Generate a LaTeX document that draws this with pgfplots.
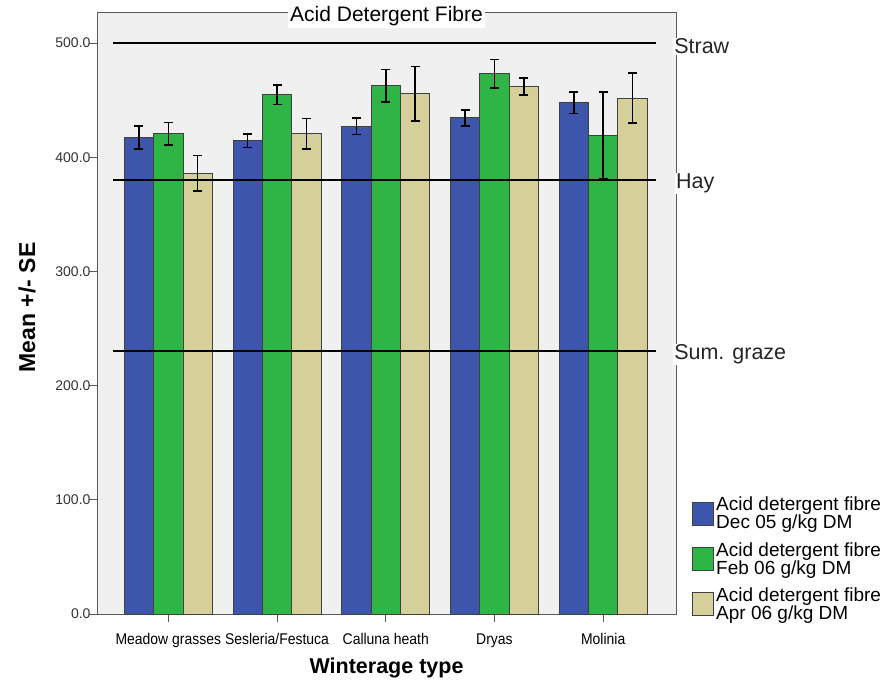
\documentclass[border=0pt]{standalone}
\usepackage{pgfplots}
\usepackage{pgfplotstable}
\pgfplotsset{compat=1.18}
\usepackage{fontspec}
\setmainfont{Liberation Sans}
\newfontfamily\narrowfont[FakeStretch=0.9]{Liberation Sans}
\definecolor{cblue}{RGB}{61,86,172}
\definecolor{cgreen}{RGB}{47,180,70}
\definecolor{ctan}{RGB}{213,207,153}
\definecolor{cbg}{RGB}{240,240,240}
\definecolor{cframe}{RGB}{90,90,90}
\pgfplotstableread{
x b be g ge t te
0 417.4 10.0 420.6 10.0 386.2 15.5
1 414.5 6.0 454.8 8.6 420.6 13.5
2 427.3 7.3 462.6 14.3 455.6 24.0
3 434.6 7.0 473.2 12.4 462.0 7.5
4 447.7 9.4 419.4 38.0 451.9 21.7
}\data
\begin{document}
\begin{tikzpicture}
\path[use as bounding box] (0,0) rectangle (885pt,682pt);
\begin{axis}[
  at={(97pt,68pt)}, anchor=south west,
  width=579pt, height=601pt, scale only axis,
  clip=false,
  ybar, bar width=0.27,
  xmin=-0.656, xmax=4.67,
  ymin=0, ymax=526.4,
  axis background/.style={fill=cbg},
  axis line style={cframe, line width=1pt},
  xtick={0,1,2,3,4},
  xticklabels={Meadow grasses, Sesleria/Festuca, Calluna heath, Dryas, Molinia},
  ytick={0,100,200,300,400,500},
  tick align=outside,
  xtick pos=bottom, ytick pos=left,
  major tick length=8pt,
  tick style={cframe, line width=1pt},
  /pgf/number format/assume math mode=true,
  yticklabel style={/pgf/number format/.cd, fixed, fixed zerofill, precision=1, /tikz/.cd, font=\fontsize{14}{16}\selectfont, text=black!80, xshift=5pt},
  xticklabel style={font=\narrowfont\fontsize{15.5}{16}\selectfont, text=black, yshift=-8pt},
  xlabel={Winterage type},
  xlabel style={font=\bfseries\fontsize{21.5}{24}\selectfont, at={(axis description cs:0.5,0)}, anchor=base, yshift=-59pt},
  ylabel={Mean +/- SE},
  ylabel style={font=\bfseries\fontsize{23}{26}\selectfont, at={(axis description cs:-0.121,0.51)}, anchor=center},
  title={Acid Detergent Fibre},
  title style={at={(0.5,1)}, anchor=base, yshift=-15pt, fill=white, inner sep=2pt, font=\fontsize{21}{24}\selectfont},
  legend style={at={(1.028,0.198)}, anchor=north west, draw=none, fill=none, font=\fontsize{19}{18}\selectfont, cells={align=left}, row sep=8pt, inner sep=0pt},
  legend image code/.code={\draw[#1, draw=black!75, line width=0.8pt] (0pt,-11.5pt) rectangle (21pt,11.5pt);},
  error bars/error bar style={black, line width=1.6pt},
  error bars/error mark options={black, line width=1.6pt, mark size=4.5pt, rotate=90},
]
\addplot[fill=cblue, draw=black!75, line width=0.8pt, bar shift=-0.27,
  error bars/.cd, y dir=both, y explicit]
  table[x=x, y=b, y error=be] {\data};
\addlegendentry{Acid detergent fibre\\Dec 05 g/kg DM}
\addplot[fill=cgreen, draw=black!75, line width=0.8pt, bar shift=0,
  error bars/.cd, y dir=both, y explicit]
  table[x=x, y=g, y error=ge] {\data};
\addlegendentry{Acid detergent fibre\\Feb 06 g/kg DM}
\addplot[fill=ctan, draw=black!75, line width=0.8pt, bar shift=0.27,
  error bars/.cd, y dir=both, y explicit]
  table[x=x, y=t, y error=te] {\data};
\addlegendentry{Acid detergent fibre\\Apr 06 g/kg DM}
\addplot[sharp plot, black, line width=2pt, forget plot] coordinates {(-0.509,500) (4.487,500)};
\addplot[sharp plot, black, line width=2pt, forget plot] coordinates {(-0.509,380) (4.487,380)};
\addplot[sharp plot, black, line width=2pt, forget plot] coordinates {(-0.509,230) (4.487,230)};
\node[anchor=west, fill=white, inner sep=1pt, yshift=-3pt, font=\fontsize{21.5}{24}\selectfont, text=black!85] at (axis cs:4.643,500) {Straw};
\node[anchor=west, fill=white, inner sep=1pt, yshift=-3pt, font=\fontsize{21.5}{24}\selectfont, text=black!85] at (axis cs:4.66,380) {Hay};
\node[anchor=west, fill=white, inner sep=1pt, yshift=-3pt, font=\fontsize{21.5}{24}\selectfont, text=black!85] at (axis cs:4.643,230) {Sum. graze};
\end{axis}
\end{tikzpicture}
\end{document}
